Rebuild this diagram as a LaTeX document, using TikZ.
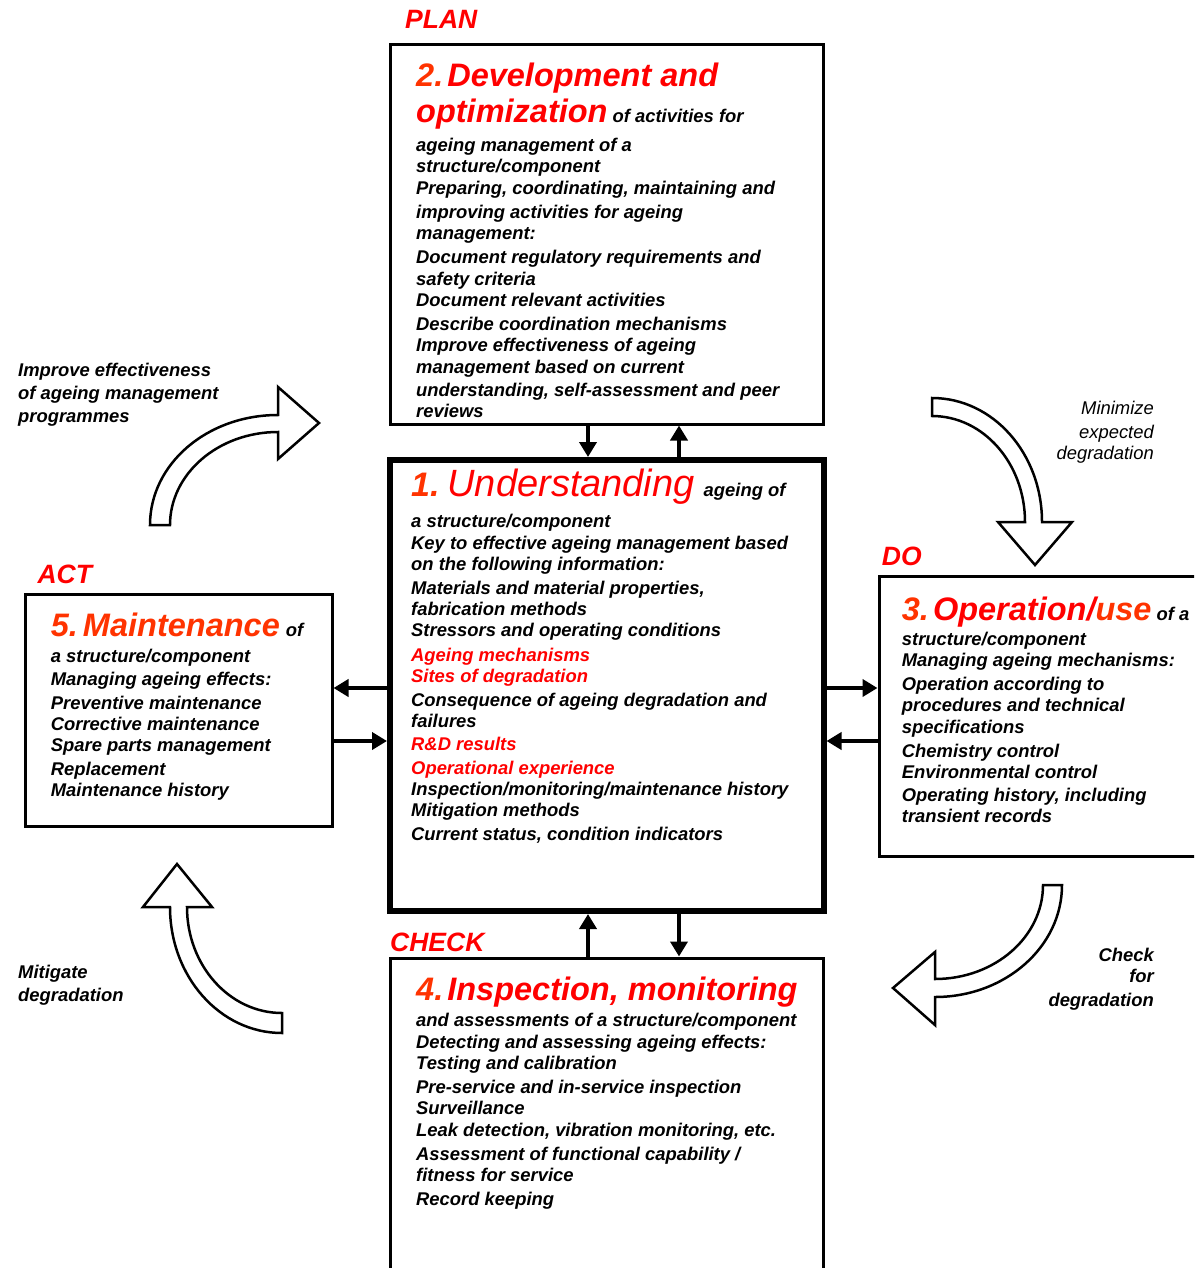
\documentclass[tikz,border=0pt]{standalone}
\usepackage{fontspec}
\setmainfont{Liberation Sans}
\usetikzlibrary{arrows.meta}
\definecolor{numred}{RGB}{255,51,0}
\newcommand{\titlefont}{\fontsize{32.5}{36}\selectfont}
\begin{document}
\begin{tikzpicture}[x=1pt,y=-1pt,
  box/.style={draw, line width=3pt, anchor=north west, inner sep=0pt, outer sep=0pt, minimum width=433pt},
  body/.style={anchor=base west, inner sep=0pt, font=\fontsize{18.4}{22}\selectfont\bfseries\itshape},
  sideR/.style={anchor=base east, inner sep=0pt, font=\fontsize{18.4}{22}\selectfont\itshape},
  phase/.style={anchor=base west, inner sep=0pt, text=red, font=\fontsize{26.5}{30}\selectfont\bfseries\itshape},
  conn/.style={line width=4pt, -{Triangle[length=15pt,width=17pt]}},
  bigarrow/.style={draw, line width=2.5pt, fill=white, line join=miter}
]
\clip (0,0) rectangle (1194,1268);
\fill[white] (0,0) rectangle (1194,1268);

% boxes
\node[box, minimum height=379pt] (b2) at (390,45) {};
\node[box, line width=6pt, minimum width=433.5pt, minimum height=451pt] (b1) at (390,460) {};
\node[box, minimum width=307pt, minimum height=232pt] (b5) at (25,594) {};
\node[box, minimum width=340pt, minimum height=280pt] (b3) at (879,576) {};
\node[box, minimum height=340pt] (b4) at (390,958) {};

% phase labels
\node[phase] (plan) at (405,29) {PLAN};
\node[phase] (act) at (37.3,583.3) {ACT};
\node[phase] (do) at (881.7,565) {DO};
\node[phase] (check) at (390,951) {CHECK};

% box 2
\node[body] (b2h1) at (416,87) {\titlefont\textcolor{numred}{2.}\hspace{4pt}\textcolor{red}{Development and}};
\node[body] (b2h2) at (416,123) {{\titlefont\textcolor{red}{optimization}} of activities for};
\foreach \y/\t [count=\i] in {151.7/{ageing management of a}, 172.7/{structure/component},
  194.3/{Preparing, coordinating, maintaining and}, 218.3/{improving activities for ageing},
  239/{management:}, 263.3/{Document regulatory requirements and}, 285/{safety criteria},
  306.7/{Document relevant activities}, 330/{Describe coordination mechanisms},
  351/{Improve effectiveness of ageing}, 373.3/{management based on current},
  396.7/{understanding, self-assessment and peer}, 417.3/{reviews}}
  \node[body] (b2t\i) at (416,\y) {\t};

% box 1
\node[body] (b1h) at (411,496) {{\fontsize{34}{38}\selectfont\textcolor{numred}{1.}}\hspace{8pt}{\fontsize{38}{40}\selectfont\mdseries\textcolor{red}{Understanding}}\hspace{9pt}ageing of};
\foreach \y/\t [count=\i] in {527.3/{a structure/component},
  549.3/{Key to effective ageing management based}, 570/{on the following information:},
  594/{Materials and material properties,}, 615.7/{fabrication methods},
  636.7/{Stressors and operating conditions}, 661.7/{\color{red}Ageing mechanisms},
  682.7/{\color{red}Sites of degradation}, 706.7/{Consequence of ageing degradation and},
  727.3/{failures}, 750/{\color{red}R\&D results}, 774/{\color{red}Operational experience},
  795/{Inspection/monitoring/maintenance history}, 816/{Mitigation methods},
  840/{Current status, condition indicators}}
  \node[body] (b1t\i) at (411,\y) {\t};

% box 5
\node[body] (b5h) at (50.7,636) {{\titlefont\textcolor{numred}{5.\hspace{5pt}Maintenance}}\hspace{6pt}of};
\foreach \y/\t [count=\i] in {662.7/{a structure/component}, 685/{Managing ageing effects:},
  709.3/{Preventive maintenance}, 730/{Corrective maintenance}, 751.7/{Spare parts management},
  775/{Replacement}, 796.7/{Maintenance history}}
  \node[body] (b5t\i) at (50.7,\y) {\t};

% box 3
\node[body] (b3h) at (901.7,620.7) {{\titlefont\textcolor{numred}{3.}\hspace{4pt}\textcolor{red}{Operation/}\textcolor{numred}{use}}\hspace{5pt}of a};
\foreach \y/\t [count=\i] in {645/{structure/component}, 666.7/{Managing ageing mechanisms:},
  690.7/{Operation according to}, 711.7/{procedures and technical}, 733.3/{specifications},
  757.3/{Chemistry control}, 778.3/{Environmental control},
  801.7/{Operating history, including}, 822.7/{transient records}}
  \node[body] (b3t\i) at (901.7,\y) {\t};

% box 4
\node[body] (b4h) at (416,1000) {\titlefont\textcolor{numred}{4.}\hspace{4pt}\textcolor{red}{Inspection, monitoring}};
\foreach \y/\t [count=\i] in {1026/{and assessments of a structure/component},
  1048/{Detecting and assessing ageing effects:}, 1069/{Testing and calibration},
  1093/{Pre-service and in-service inspection}, 1114/{Surveillance},
  1136/{Leak detection, vibration monitoring, etc.}, 1160/{Assessment of functional capability /},
  1181/{fitness for service}, 1205/{Record keeping}}
  \node[body] (b4t\i) at (416,\y) {\t};

% side labels
\node[body] (s1a) at (18,376) {Improve effectiveness};
\node[body] (s1b) at (18,399) {of ageing management};
\node[body] (s1c) at (18,422) {programmes};
\node[sideR] (s2a) at (1154,414) {Minimize};
\node[sideR] (s2b) at (1154,438) {expected};
\node[sideR] (s2c) at (1154,459) {degradation};
\node[body, anchor=base east] (s3a) at (1154,961) {Check};
\node[body, anchor=base east] (s3b) at (1154,982) {for};
\node[body, anchor=base east] (s3c) at (1154,1006) {degradation};
\node[body] (s4a) at (18,978) {Mitigate};
\node[body] (s4b) at (18,1001) {degradation};

% connectors between boxes
\draw[conn, shorten >=3pt] ([xshift=-18.5pt]b2.south) -- ([xshift=-18.75pt]b1.north);
\draw[conn, shorten >=1.5pt, shorten <=3pt] ([xshift=72.25pt]b1.north) -- ([xshift=72.5pt]b2.south);
\draw[conn, shorten >=3pt, shorten <=1.5pt] ([xshift=-18.5pt]b4.north) -- ([xshift=-18.75pt]b1.south);
\draw[conn, shorten >=1.5pt, shorten <=3pt] ([xshift=72.25pt]b1.south) -- ([xshift=72.5pt]b4.north);
\draw[conn, shorten >=1.5pt, shorten <=3pt] ([yshift=-2.5pt]b1.west) -- ([yshift=22pt]b5.east);
\draw[conn, shorten >=3pt, shorten <=1.5pt] ([yshift=-31pt]b5.east) -- ([yshift=-55.5pt]b1.west);
\draw[conn, shorten >=1.5pt, shorten <=3pt] ([yshift=-2.5pt]b1.east) -- ([yshift=28pt]b3.west);
\draw[conn, shorten >=3pt, shorten <=1.5pt] ([yshift=-25pt]b3.west) -- ([yshift=-55.5pt]b1.east);

% curved block arrows
\draw[bigarrow] (150,525) .. controls (150,464) and (207,415) .. (278,415) -- (278,387) -- (319,423) -- (278,459) -- (278,432) .. controls (218,432) and (170,474) .. (170,525) -- cycle;
\draw[bigarrow] (932,398) .. controls (993,398) and (1042,453.5) .. (1042,522) -- (1072,522) -- (1035,565) -- (998,522) -- (1025,522) .. controls (1025,463.5) and (983.4,416) .. (932,416) -- cycle;
\draw[bigarrow] (1062,885) .. controls (1062,947) and (1005,997) .. (935,997) -- (935,1025) -- (893,988) -- (935,952) -- (935,979) .. controls (994.6,979) and (1043,937) .. (1043,885) -- cycle;
\draw[bigarrow] (170,907) .. controls (170,976.6) and (220,1033) .. (282,1033) -- (282,1013) .. controls (229.5,1013) and (187,965.5) .. (187,907) -- (212,907) -- (177,864) -- (143,907) -- cycle;
\end{tikzpicture}
\end{document}
